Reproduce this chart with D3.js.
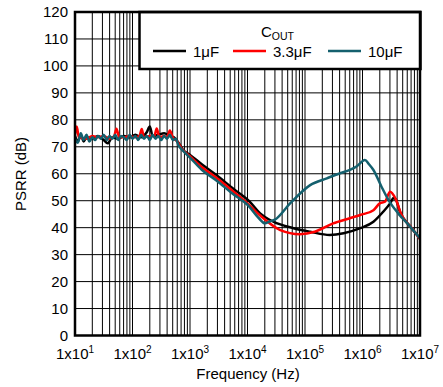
<!DOCTYPE html>
<html><head><meta charset="utf-8">
<script src="https://cdn.jsdelivr.net/npm/d3@7"></script>
<style>body{margin:0;background:#fff} text{font-family:"Liberation Sans",Arial,sans-serif;fill:#000}</style>
</head><body><svg id="c" width="443" height="387"></svg>
<script>
// ---- data ----
const yTicks = [0,10,20,30,40,50,60,70,80,90,100,110,120];
const xTickExp = [1,2,3,4,5,6,7];
const seriesNames = ["1\u03BCF","3.3\u03BCF","10\u03BCF"];
const seriesColors = ["#000000","#ff0000","#14606e"];

const blackFreq = [10,11.2,12.6,14.1,15.8,20,25,31.6,37,44.7,56,71,89,112,141,178,200,224,282,355,447,525,631,760,1000,1600,2880,5600,11000,16600,28200,63100,123000,269000,468000,912000,1550000,2290000,3020000,3470000,3800000,4470000,6760000,10000000];
const blackDb = [74,72,74.5,72,73.5,73,74,72.5,71.3,73.5,73,74,73.5,74.5,73.5,75.5,77.5,74,74.5,75,74,73.5,71.5,68.8,67,63.5,59.5,54.5,49.6,45.3,42.2,39.8,38.5,37.3,37.9,39.8,42.2,45.9,49,51,50.5,45.9,40.4,36];

const redFreq = [10,10.7,11.7,15.8,20,25,31.6,40,48,52.5,59,71,89,112,132,145,158,200,240,263,295,355,398,447,501,603,708,1000,1600,2880,5600,10000,16600,37150,81300,148000,309000,603000,912000,1550000,2000000,2450000,3020000,3720000,4790000,7240000,10000000];
const redDb = [74.5,77.5,73.5,73,74,73.5,74,73,74,76.7,73.5,73.5,74,73.5,74,76.6,73.5,74,74,76.8,73.5,74,73.5,76,73.5,72,69.5,66.5,62.5,58.5,53.5,49,44.5,39.1,37.6,38.5,41.6,43.5,44.7,46.5,49,49.6,53.3,50.9,44.7,39.8,35.7];

const tealFreq = [10,11.2,12.6,14.1,15.8,17.8,20,22.4,25.1,28.2,31.6,35.5,39.8,44.7,50.1,56.2,63.1,70.8,79.4,89.1,100,112,126,141,158,178,200,224,251,282,316,355,398,447,501,562,631,760,1000,1600,2880,5600,10000,15800,20000,24500,30000,55000,123000,240000,407000,603000,800000,1100000,1300000,1550000,2140000,2820000,4170000,6760000,10000000];
const tealDb = [73,71.5,75,72.5,74.5,72,73.5,72.5,74,73,74.5,72.5,74,73,74.5,72.5,74,73.5,72.5,74.5,73,74,72.5,74.5,73,74,72.5,74.5,73,74,72.5,74,73,74.5,72.5,73,70.5,68.5,66,61.5,57.5,52.5,48.5,43.5,41.6,42.3,43,49,55.8,58.3,60.2,61.4,62.8,65.1,63.5,61.4,55.2,50.3,45.3,40.4,36];

// ---- layout ----
const L=75, R=420, T=12, B=335.5;
const svg = d3.select("#c");
const x = d3.scaleLog().domain([10,1e7]).range([L,R]);
const y = d3.scaleLinear().domain([0,120]).range([B,T]);

// grid
const g = svg.append("g");
const vlines = [];
for (let d=1; d<7; d++) for (let m=1; m<10; m++) vlines.push(m*Math.pow(10,d));
vlines.push(1e7);
g.selectAll("line.v").data(vlines).join("line")
  .attr("x1",d=>x(d)).attr("x2",d=>x(d)).attr("y1",T).attr("y2",B)
  .attr("stroke","#000").attr("stroke-width",1);
g.selectAll("line.h").data(yTicks).join("line")
  .attr("x1",L).attr("x2",R).attr("y1",d=>y(d)).attr("y2",d=>y(d))
  .attr("stroke","#000").attr("stroke-width",1);

// curves
svg.append("clipPath").attr("id","clip").append("rect").attr("x",L).attr("y",T).attr("width",R-L).attr("height",B-T);
const line = d3.line().x(d=>x(d[0])).y(d=>y(d[1])).curve(d3.curveMonotoneX);
const series = [
  [blackFreq,blackDb],[redFreq,redDb],[tealFreq,tealDb]
];
series.forEach((s,i)=>{
  const pts = s[0].map((f,j)=>[f,s[1][j]]);
  svg.append("path").attr("d",line(pts)).attr("fill","none")
    .attr("stroke",seriesColors[i]).attr("stroke-width",2.5)
    .attr("stroke-linejoin","round").attr("clip-path","url(#clip)");
});

// legend
const lg = svg.append("g");
lg.append("rect").attr("x",139.5).attr("y",12).attr("width",281).attr("height",57)
  .attr("fill","#fff").attr("stroke","#000").attr("stroke-width",2.5);
const ct = lg.append("text").attr("x",261).attr("y",37).attr("font-size",15);
ct.append("tspan").text("C");
ct.append("tspan").attr("font-size",10.5).attr("dy",2.5).text("OUT");
const legX = [153,233,328];
seriesNames.forEach((n,i)=>{
  lg.append("line").attr("x1",legX[i]).attr("x2",legX[i]+33).attr("y1",51).attr("y2",51)
    .attr("stroke",seriesColors[i]).attr("stroke-width",2.5);
  lg.append("text").attr("x",legX[i]+40).attr("y",57).attr("font-size",15).text(n);
});

// border
svg.append("rect").attr("x",L).attr("y",T).attr("width",R-L).attr("height",B-T)
  .attr("fill","none").attr("stroke","#000").attr("stroke-width",2.5);

// y tick labels
svg.selectAll("text.yt").data(yTicks).join("text").attr("class","yt")
  .attr("x",68).attr("y",d=>y(d)).attr("dy","0.36em").attr("text-anchor","end")
  .attr("font-size",15).text(d=>d);

// x tick labels
xTickExp.forEach(e=>{
  const t = svg.append("text").attr("x",x(Math.pow(10,e))).attr("y",359)
    .attr("text-anchor","middle").attr("font-size",15);
  t.append("tspan").text("1x10");
  t.append("tspan").attr("font-size",10).attr("dy",-6).text(e);
});

// axis titles
svg.append("text").attr("x",248).attr("y",379).attr("text-anchor","middle")
  .attr("font-size",15).text("Frequency (Hz)");
svg.append("text").attr("transform","translate(26,174) rotate(-90)")
  .attr("text-anchor","middle").attr("font-size",15).text("PSRR (dB)");
</script></body></html>
